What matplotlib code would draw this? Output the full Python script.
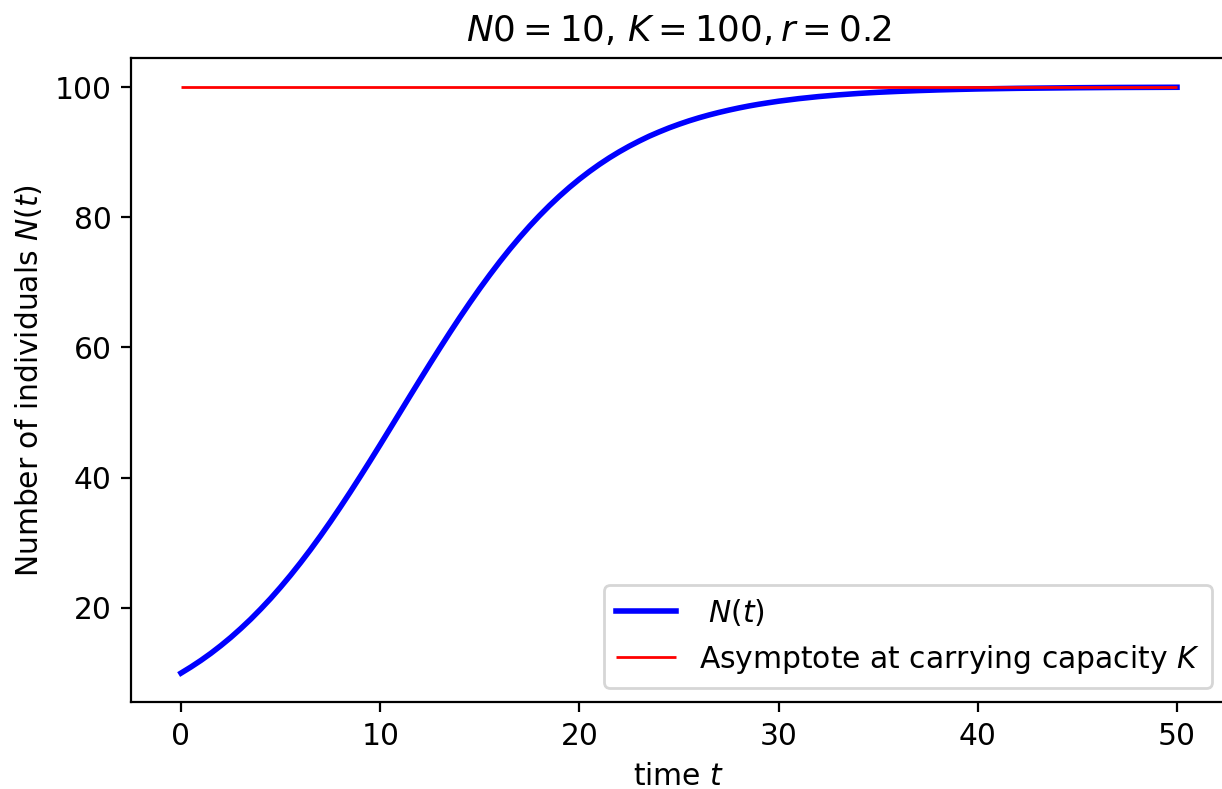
import matplotlib
matplotlib.use("Agg")
import matplotlib.pyplot as plt

plt.rcParams['font.size'] = 10.7

# time points and population values
t = [0, 0.5, 1, 1.5, 2, 2.5, 3, 3.5, 4, 4.5, 5, 5.5, 6, 6.5, 7, 7.5, 8, 8.5,
     9, 9.5, 10, 10.5, 11, 11.5, 12, 12.5, 13, 13.5, 14, 14.5, 15, 15.5, 16,
     16.5, 17, 17.5, 18, 18.5, 19, 19.5, 20, 20.5, 21, 21.5, 22, 22.5, 23,
     23.5, 24, 24.5, 25, 25.5, 26, 26.5, 27, 27.5, 28, 28.5, 29, 29.5, 30,
     31, 32, 33, 34, 35, 36, 37, 38, 39, 40, 41, 42, 43, 44, 45, 46, 47, 48,
     49, 50]
N = [10.0, 10.94, 11.95, 13.04, 14.22, 15.48, 16.84, 18.28, 19.83, 21.46,
     23.20, 25.03, 26.95, 28.96, 31.06, 33.24, 35.50, 37.82, 40.20, 42.62,
     45.08, 47.57, 50.07, 52.57, 55.05, 57.51, 59.93, 62.31, 64.63, 66.88,
     69.06, 71.15, 73.16, 75.08, 76.90, 78.63, 80.26, 81.80, 83.24, 84.59,
     85.85, 87.02, 88.11, 89.12, 90.05, 90.91, 91.70, 92.44, 93.10, 93.72,
     94.28, 94.80, 95.27, 95.70, 96.09, 96.45, 96.78, 97.08, 97.35, 97.59,
     97.82, 98.21, 98.53, 98.79, 99.01, 99.19, 99.33, 99.45, 99.55, 99.63,
     99.70, 99.75, 99.80, 99.83, 99.86, 99.89, 99.91, 99.93, 99.94, 99.95,
     99.96]
K = 100
t_range = [0, 50]

fig = plt.figure(figsize=(6.11, 3.945), dpi=200)
ax = fig.add_axes([131.2/1222, 1-702.4/789, (1226.8-131.2)/1222, (702.4-57.7)/789])
ax.plot(t, N, color='blue', lw=2, label=r' $N(t)$')
ax.hlines(K, t_range[0], t_range[1], color='red', lw=1, label=r'Asymptote at carrying capacity $K$')
ax.set_xlim(-2.5, 52.5)
ax.set_ylim(5.5, 104.5)
ax.set_xticks([0, 10, 20, 30, 40, 50])
ax.set_yticks([20, 40, 60, 80, 100])
ax.set_xlabel(r'time $t$')
ax.set_ylabel(r'Number of individuals $N(t)$')
ax.set_title(r'$N0 = 10$, $K = 100, r = 0.2$')
ax.legend(loc='lower right')
fig.savefig('out.png', dpi=200)
